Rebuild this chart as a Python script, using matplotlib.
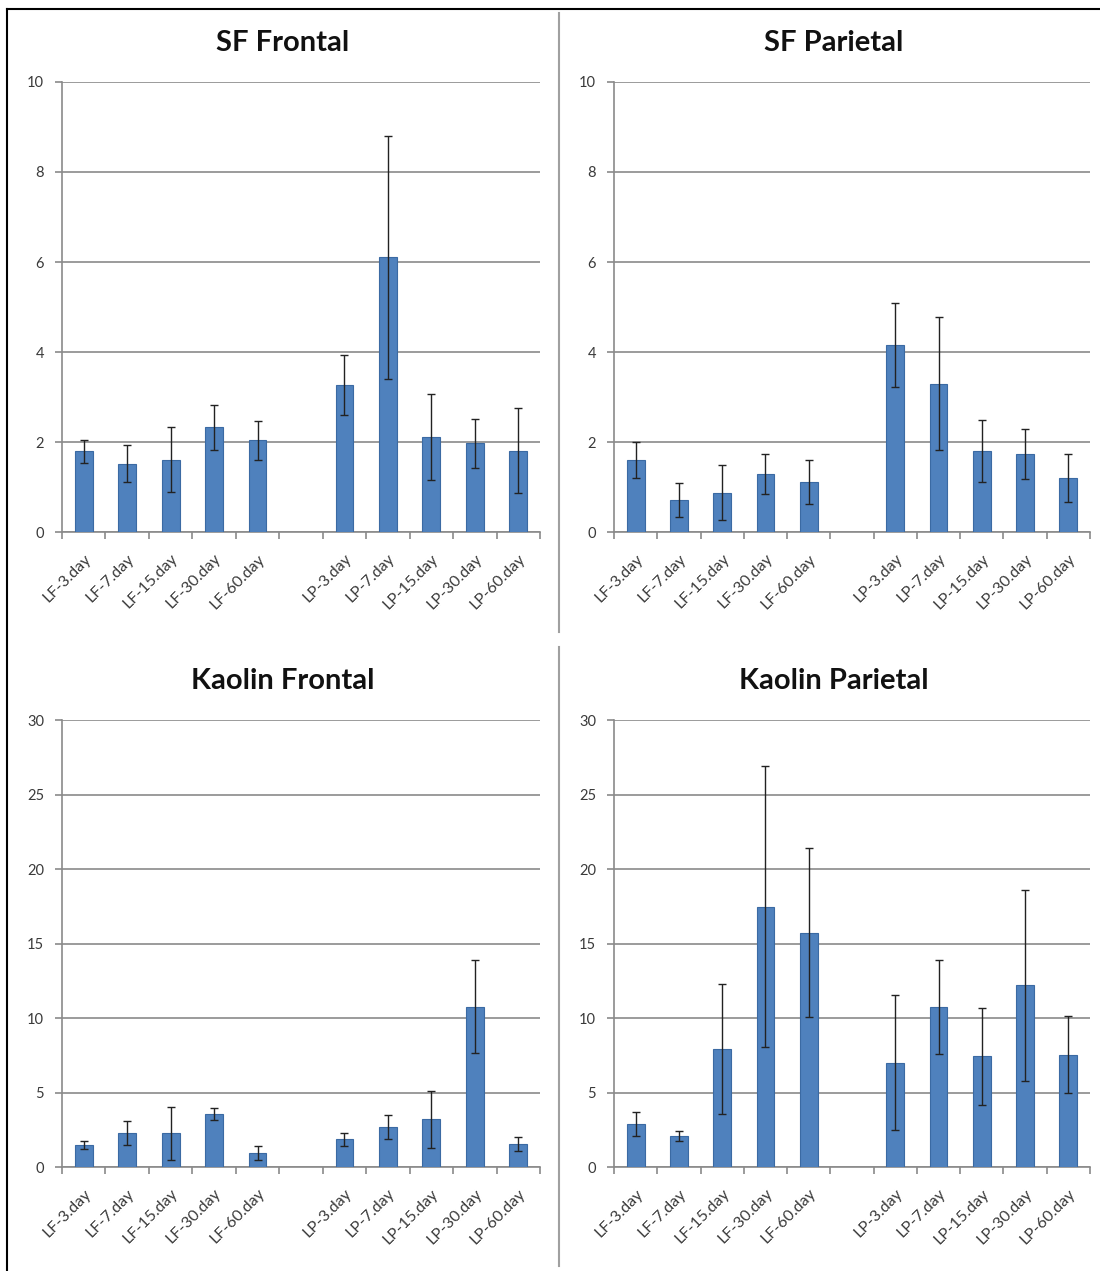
import numpy as np
import matplotlib.pyplot as plt
from matplotlib.lines import Line2D

plt.rcParams['font.family'] = ['Lato', 'DejaVu Sans']

# category labels; an empty slot separates the LF and LP groups
labels = ["LF-3.day", "LF-7.day", "LF-15.day", "LF-30.day", "LF-60.day", "",
          "LP-3.day", "LP-7.day", "LP-15.day", "LP-30.day", "LP-60.day"]

sf_frontal = [1.79, 1.52, 1.61, 2.33, 2.04, np.nan, 3.27, 6.11, 2.11, 1.97, 1.81]
sf_frontal_err = [0.26, 0.41, 0.73, 0.50, 0.43, np.nan, 0.66, 2.70, 0.96, 0.55, 0.95]

sf_parietal = [1.60, 0.71, 0.87, 1.29, 1.11, np.nan, 4.15, 3.30, 1.80, 1.73, 1.20]
sf_parietal_err = [0.40, 0.37, 0.61, 0.44, 0.49, np.nan, 0.93, 1.48, 0.69, 0.55, 0.53]

kaolin_frontal = [1.48, 2.26, 2.26, 3.56, 0.94, np.nan, 1.86, 2.67, 3.20, 10.77, 1.54]
kaolin_frontal_err = [0.30, 0.80, 1.78, 0.40, 0.46, np.nan, 0.43, 0.80, 1.90, 3.15, 0.45]

kaolin_parietal = [2.89, 2.10, 7.90, 17.48, 15.73, np.nan, 7.01, 10.74, 7.42, 12.19, 7.55]
kaolin_parietal_err = [0.83, 0.33, 4.37, 9.44, 5.66, np.nan, 4.54, 3.15, 3.24, 6.42, 2.57]

panels = [
    ("SF Frontal", sf_frontal, sf_frontal_err, 10, 2, [0.0564, 0.5814, 0.4345, 0.3541]),
    ("SF Parietal", sf_parietal, sf_parietal_err, 10, 2, [0.5582, 0.5814, 0.4327, 0.3541]),
    ("Kaolin Frontal", kaolin_frontal, kaolin_frontal_err, 30, 5, [0.0564, 0.0818, 0.4345, 0.3517]),
    ("Kaolin Parietal", kaolin_parietal, kaolin_parietal_err, 30, 5, [0.5582, 0.0818, 0.4327, 0.3517]),
]

BAR = "#4f81bd"
EDGE = "#3b6aa3"
GRID = "#8a8a8a"
TXT = "#3a3a3a"

fig = plt.figure(figsize=(11, 12.71), dpi=100)

x = np.arange(len(labels))
for title, vals, errs, ymax, step, rect in panels:
    ax = fig.add_axes(rect)
    ax.bar(x, vals, width=0.41, color=BAR, edgecolor=EDGE, linewidth=0.8, zorder=3)
    ax.errorbar(x, vals, yerr=errs, fmt="none", ecolor="#222222", elinewidth=1.0,
                capsize=3, capthick=1.0, zorder=4)
    ax.set_xlim(-0.5, len(labels) - 0.5)
    ax.set_ylim(0, ymax)
    ax.set_yticks(np.arange(0, ymax + 1, step))
    ax.yaxis.grid(True, color=GRID, linewidth=1.2, zorder=0)
    ax.set_axisbelow(True)

    # labels sit under the bars, tick marks between the categories
    ax.set_xticks(x)
    ax.set_xticklabels(labels, rotation=45, ha="right", rotation_mode="anchor",
                       fontsize=11.5, color=TXT)
    ax.set_xticks(np.arange(-0.5, len(labels)), minor=True)
    ax.tick_params(axis="x", which="major", length=0, pad=14)
    ax.tick_params(axis="x", which="minor", length=5, color=GRID, width=1.2)
    ax.tick_params(axis="y", length=5, color=GRID, width=1.2, labelsize=10.5,
                   labelcolor=TXT, pad=8)

    for side in ("top", "right"):
        ax.spines[side].set_visible(False)
    for side in ("left", "bottom"):
        ax.spines[side].set_color(GRID)
        ax.spines[side].set_linewidth(1.2)

    ax.set_title(title, fontsize=21, fontweight="bold", color="#111111", pad=22, x=0.462)

# frame along the top and left, plus the column divider
fig.add_artist(Line2D([0.0064, 1.0], [0.9929, 0.9929], color="black", linewidth=1.5))
fig.add_artist(Line2D([0.0064, 0.0064], [0.0, 0.9929], color="black", linewidth=1.5))
fig.add_artist(Line2D([0.508, 0.508], [0.503, 0.990], color="#a0a0a0", linewidth=1.5))
fig.add_artist(Line2D([0.508, 0.508], [0.004, 0.491], color="#a0a0a0", linewidth=1.5))

fig.savefig("out.png", dpi=100, facecolor="white")
